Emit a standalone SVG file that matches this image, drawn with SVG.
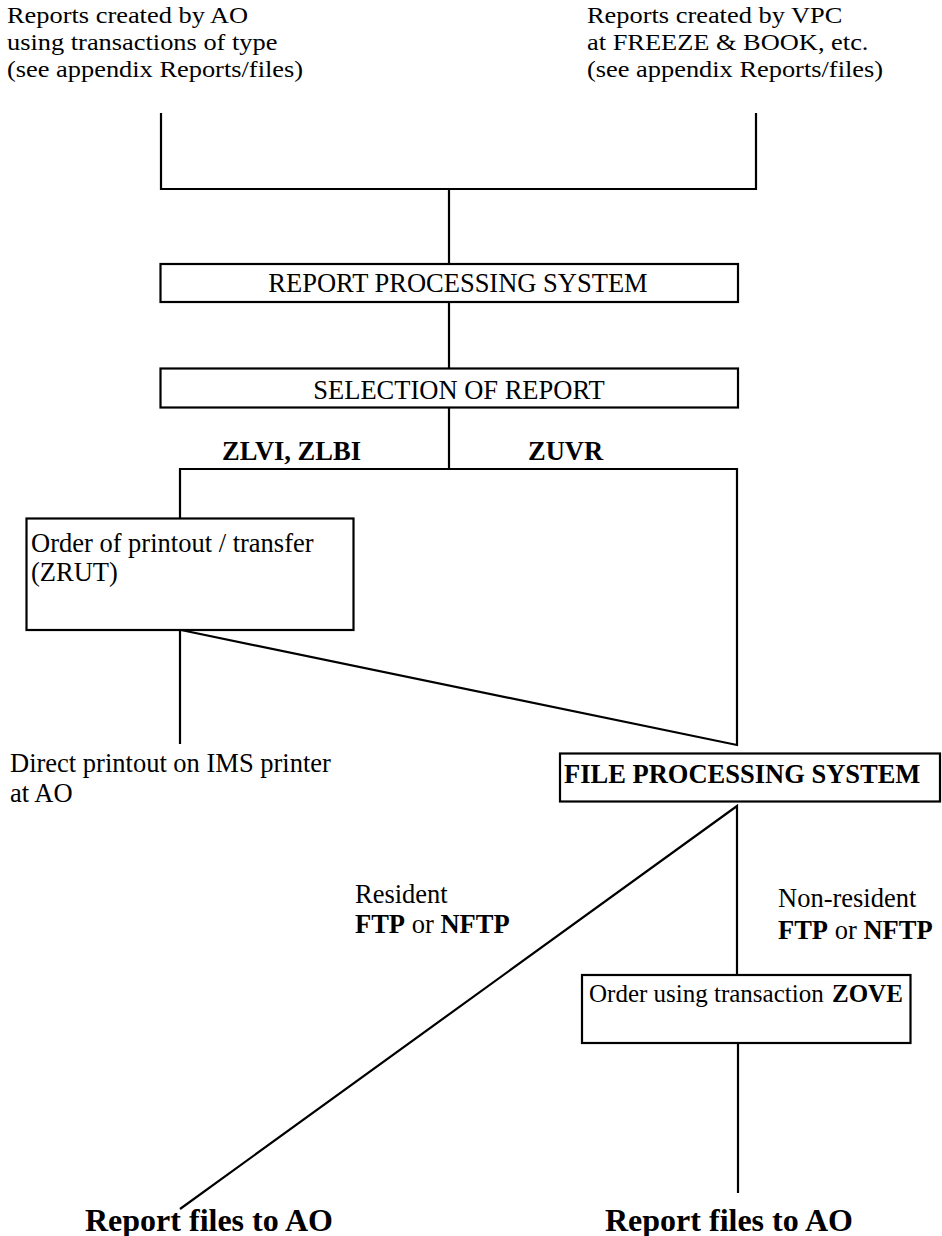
<svg xmlns="http://www.w3.org/2000/svg" width="942" height="1236" viewBox="0 0 942 1236">
<style>
text{font-family:"Liberation Serif","Times New Roman",serif;font-size:26.5px;fill:#000}
.top{font-size:24px}
.zv{font-size:25px}
.b{font-weight:bold}
.big{font-weight:bold;font-size:32px}
.box{fill:#fff;stroke:#000;stroke-width:2.2}
.ln{fill:none;stroke:#000;stroke-width:2.2}
</style>
<g id="src-ao" transform="translate(7 0) scale(1.1 1)">
<text class="top" x="0" y="23">Reports created by AO</text>
<text class="top" x="0" y="50">using transactions of type</text>
<text class="top" x="0" y="77">(see appendix Reports/files)</text>
</g>
<g id="src-vpc" transform="translate(587 0) scale(1.1 1)">
<text class="top" x="0" y="23">Reports created by VPC</text>
<text class="top" x="0" y="50">at FREEZE &amp; BOOK, etc.</text>
<text class="top" x="0" y="77">(see appendix Reports/files)</text>
</g>
<g id="connectors" class="ln">
<polyline class="ln" points="161,113 161,189 756,189 756,113"/>
<line class="ln" x1="449" y1="189" x2="449" y2="264"/>
<line class="ln" x1="449" y1="302" x2="449" y2="368"/>
<line class="ln" x1="449" y1="408" x2="449" y2="469"/>
<polyline class="ln" points="180,518 180,469 737,469 737,745 181,630"/>
<line class="ln" x1="180" y1="630" x2="180" y2="744"/>
<polyline class="ln" points="180,1209 737,806 737,975"/>
<line class="ln" x1="738" y1="1043" x2="738" y2="1193"/>
</g>
<g id="report-processing">
<rect class="box" x="160.5" y="264" width="577.5" height="38"/>
<text x="458" y="292" text-anchor="middle">REPORT PROCESSING SYSTEM</text>
</g>
<g id="selection">
<rect class="box" x="160.5" y="368.5" width="577.5" height="39"/>
<text x="459" y="399" text-anchor="middle">SELECTION OF REPORT</text>
</g>
<g id="label-zlvi"><text class="b" x="222" y="460">ZLVI, ZLBI</text></g>
<g id="label-zuvr"><text class="b" x="528" y="460">ZUVR</text></g>
<g id="order-printout">
<rect class="box" x="26.5" y="518.5" width="327" height="111.5"/>
<text x="31" y="551.5">Order of printout / transfer</text>
<text x="31" y="581">(ZRUT)</text>
</g>
<g id="direct-printout">
<text x="10" y="771.5">Direct printout on IMS printer</text>
<text x="10" y="801.5">at AO</text>
</g>
<g id="file-processing">
<rect class="box" x="560" y="753.5" width="380" height="48"/>
<text class="b" x="564" y="783">FILE PROCESSING SYSTEM</text>
</g>
<g id="label-resident">
<text x="355" y="902.5">Resident</text>
<text x="355" y="932.5"><tspan class="b">FTP</tspan> or <tspan class="b">NFTP</tspan></text>
</g>
<g id="label-nonresident">
<text x="778" y="907">Non-resident</text>
<text x="778" y="939"><tspan class="b">FTP</tspan> or <tspan class="b">NFTP</tspan></text>
</g>
<g id="order-zove">
<rect class="box" x="582" y="975" width="328.5" height="68"/>
<text class="zv" x="589" y="1001.5">Order using transaction</text>
<text class="zv b" x="832" y="1001.5">ZOVE</text>
</g>
<g id="report-files-left"><text class="big" x="85" y="1230.5">Report files to AO</text></g>
<g id="report-files-right"><text class="big" x="605" y="1230.5">Report files to AO</text></g>
</svg>
